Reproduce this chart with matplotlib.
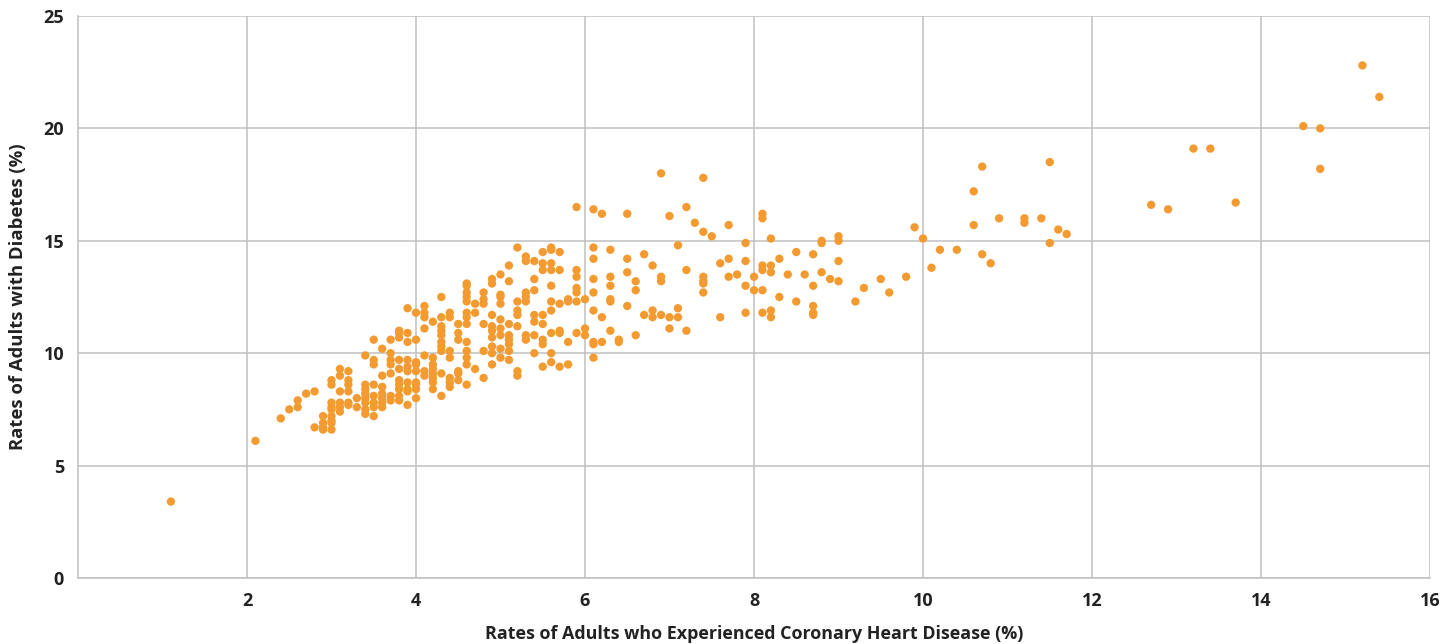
import matplotlib.pyplot as plt

# rates, grouped by x column
chd_rate = [
    1.1, 2.1, 2.4, 2.5, 2.6, 2.6, 2.7, 2.8, 2.8,
    2.9, 2.9, 2.9, 2.9,
    3.0, 3.0, 3.0, 3.0, 3.0, 3.0, 3.0, 3.0, 3.0,
    3.1, 3.1, 3.1, 3.1, 3.1, 3.1,
    3.2, 3.2, 3.2, 3.2, 3.2, 3.2,
    3.3, 3.3,
    3.4, 3.4, 3.4, 3.4, 3.4, 3.4, 3.4, 3.4,
    3.5, 3.5, 3.5, 3.5, 3.5, 3.5, 3.5, 3.5,
    3.6, 3.6, 3.6, 3.6, 3.6, 3.6, 3.6,
    3.7, 3.7, 3.7, 3.7, 3.7, 3.7, 3.7,
    3.8, 3.8, 3.8, 3.8, 3.8, 3.8, 3.8, 3.8, 3.8, 3.8,
    3.9, 3.9, 3.9, 3.9, 3.9, 3.9, 3.9, 3.9, 3.9, 3.9,
    4.0, 4.0, 4.0, 4.0, 4.0, 4.0, 4.0, 4.0, 4.0,
    4.1, 4.1, 4.1, 4.1, 4.1, 4.1, 4.1,
    4.2, 4.2, 4.2, 4.2, 4.2, 4.2, 4.2, 4.2,
    4.3, 4.3, 4.3, 4.3, 4.3, 4.3, 4.3, 4.3, 4.3, 4.3,
    4.4, 4.4, 4.4, 4.4, 4.4, 4.4, 4.4,
    4.5, 4.5, 4.5, 4.5, 4.5, 4.5,
    4.6, 4.6, 4.6, 4.6, 4.6, 4.6, 4.6, 4.6, 4.6, 4.6, 4.6, 4.6, 4.6,
    4.7, 4.7, 4.7,
    4.8, 4.8, 4.8, 4.8, 4.8, 4.8,
    4.9, 4.9, 4.9, 4.9, 4.9, 4.9, 4.9, 4.9, 4.9,
    5.0, 5.0, 5.0, 5.0, 5.0, 5.0, 5.0, 5.0, 5.0,
    5.1, 5.1, 5.1, 5.1, 5.1, 5.1, 5.1, 5.1,
    5.2, 5.2, 5.2, 5.2, 5.2, 5.2, 5.2,
    5.3, 5.3, 5.3, 5.3, 5.3, 5.3, 5.3,
    5.4, 5.4, 5.4, 5.4, 5.4, 5.4, 5.4,
    5.5, 5.5, 5.5, 5.5, 5.5, 5.5, 5.5, 5.5,
    5.6, 5.6, 5.6, 5.6, 5.6, 5.6, 5.6, 5.6, 5.6, 5.6,
    5.7, 5.7, 5.7, 5.7, 5.7, 5.7,
    5.8, 5.8, 5.8, 5.8,
    5.9, 5.9, 5.9, 5.9, 5.9, 5.9, 5.9,
    6.0, 6.0, 6.0,
    6.1, 6.1, 6.1, 6.1, 6.1, 6.1, 6.1, 6.1, 6.1,
    6.2, 6.2, 6.2,
    6.3, 6.3, 6.3, 6.3, 6.3, 6.3,
    6.4, 6.4,
    6.5, 6.5, 6.5, 6.5,
    6.6, 6.6, 6.6,
    6.7, 6.7,
    6.8, 6.8, 6.8,
    6.9, 6.9, 6.9, 6.9,
    7.0, 7.0, 7.0,
    7.1, 7.1, 7.1,
    7.2, 7.2, 7.2,
    7.3,
    7.4, 7.4, 7.4, 7.4, 7.4, 7.4,
    7.5,
    7.6, 7.6,
    7.7, 7.7, 7.7,
    7.8,
    7.9, 7.9, 7.9, 7.9,
    8.0, 8.0,
    8.1, 8.1, 8.1, 8.1, 8.1, 8.1,
    8.2, 8.2, 8.2, 8.2, 8.2,
    8.3, 8.3,
    8.4,
    8.5, 8.5,
    8.6,
    8.7, 8.7, 8.7, 8.7, 8.7,
    8.8, 8.8, 8.8,
    8.9,
    9.0, 9.0, 9.0, 9.0,
    9.2, 9.3, 9.5, 9.6, 9.8, 9.9, 10.0, 10.1, 10.2, 10.4,
    10.6, 10.6, 10.7, 10.7, 10.8, 10.9, 11.2, 11.2, 11.4,
    11.5, 11.5, 11.6, 11.7,
    12.7, 12.9, 13.2, 13.4, 13.7, 14.5, 14.7, 14.7, 15.2, 15.4,
]

diabetes_rate = [
    3.4, 6.1, 7.1, 7.5, 7.9, 7.6, 8.2, 8.3, 6.7,
    7.2, 6.9, 6.7, 6.6,
    8.8, 8.6, 7.8, 7.6, 7.5, 7.2, 7.0, 6.9, 6.6,
    9.3, 9.0, 8.3, 7.8, 7.6, 7.4,
    9.2, 8.8, 8.6, 8.3, 7.8, 7.7,
    8.0, 7.6,
    9.9, 8.6, 8.4, 8.2, 8.0, 7.8, 7.5, 7.3,
    10.6, 9.7, 9.5, 8.6, 8.1, 7.8, 7.6, 7.2,
    10.2, 9.0, 8.5, 8.2, 8.0, 7.8, 7.6,
    10.6, 10.0, 9.7, 9.5, 9.1, 8.1, 7.9,
    11.0, 10.9, 10.7, 9.7, 9.3, 8.8, 8.6, 8.4, 8.1, 7.9,
    12.0, 10.9, 10.5, 9.7, 9.4, 9.2, 8.7, 8.4, 8.3, 7.7,
    11.8, 10.6, 9.6, 9.5, 9.2, 8.7, 8.6, 8.4, 8.0,
    12.1, 11.8, 11.6, 11.1, 9.9, 9.2, 9.0,
    11.4, 9.8, 9.5, 9.3, 9.1, 8.9, 8.7, 8.4,
    12.5, 11.6, 11.2, 11.0, 10.8, 10.5, 10.3, 10.1, 9.1, 8.1,
    11.8, 11.6, 10.1, 9.8, 8.9, 8.7, 8.5,
    11.3, 10.9, 10.6, 9.2, 9.1, 8.8,
    13.1, 13.0, 12.7, 12.5, 12.3, 11.8, 11.6, 11.3, 10.5, 10.1, 9.8, 9.5, 8.6,
    12.2, 11.8, 9.3,
    12.7, 12.4, 12.2, 11.3, 10.1, 8.9,
    13.3, 13.1, 11.7, 11.2, 11.0, 10.7, 10.3, 10.0, 9.5,
    13.5, 12.6, 12.5, 12.2, 11.5, 11.1, 10.8, 10.2, 9.8,
    13.9, 13.2, 11.3, 10.8, 10.6, 10.4, 10.1, 9.7,
    14.7, 12.3, 11.9, 11.7, 11.2, 9.2, 9.0,
    14.3, 14.1, 12.7, 12.5, 12.3, 10.8, 10.6,
    14.1, 13.3, 12.8, 11.7, 11.4, 10.8, 10.0,
    14.5, 14.0, 13.7, 11.7, 11.3, 10.6, 10.4, 9.4,
    14.7, 14.6, 14.0, 13.7, 13.0, 12.3, 11.9, 10.9, 10.0, 9.6,
    14.5, 13.7, 12.2, 11.0, 10.9, 9.4,
    12.4, 12.3, 10.5, 9.5,
    16.5, 13.7, 13.4, 12.9, 12.7, 12.3, 10.9,
    12.4, 11.1, 10.8,
    16.4, 14.7, 14.2, 13.3, 12.7, 11.9, 10.5, 10.4, 9.8,
    16.2, 11.6, 10.5,
    14.6, 13.4, 13.0, 12.4, 12.3, 11.0,
    10.6, 10.5,
    16.2, 14.2, 13.6, 12.1,
    13.2, 12.8, 10.8,
    14.4, 11.7,
    13.9, 11.9, 11.6,
    18.0, 13.4, 13.2, 11.7,
    16.1, 11.6, 11.1,
    14.8, 12.0, 11.6,
    16.5, 13.7, 11.0,
    15.8,
    17.8, 15.4, 13.4, 13.2, 13.1, 12.7,
    15.2,
    14.0, 11.6,
    15.7, 14.2, 13.4,
    13.5,
    14.9, 14.1, 13.0, 11.8,
    13.4, 12.8,
    16.2, 16.0, 13.9, 13.7, 12.8, 11.8,
    15.1, 13.9, 13.6, 11.9, 11.6,
    14.2, 12.5,
    13.5,
    14.5, 12.3,
    13.5,
    14.4, 13.0, 12.1, 11.8, 11.7,
    15.0, 14.9, 13.6,
    13.3,
    15.2, 15.0, 14.1, 13.2,
    12.3, 12.9, 13.3, 12.7, 13.4, 15.6, 15.1, 13.8, 14.6, 14.6,
    17.2, 15.7, 18.3, 14.4, 14.0, 16.0, 16.0, 15.8, 16.0,
    18.5, 14.9, 15.5, 15.3,
    16.6, 16.4, 19.1, 19.1, 16.7, 20.1, 20.0, 18.2, 22.8, 21.4,
]

x_ticks = [2, 4, 6, 8, 10, 12, 14, 16]
y_ticks = [0, 5, 10, 15, 20, 25]

plt.rcParams['font.family'] = ['Open Sans', 'DejaVu Sans']

fig = plt.figure(figsize=(14.41, 6.44), dpi=100)
ax = fig.add_axes([0.0541, 0.1025, 0.9383, 0.8727])

ax.scatter(chd_rate, diabetes_rate, s=36, color='#F39A30', edgecolors='none', zorder=3)

ax.set_xlim(0, 16)
ax.set_ylim(0, 25)
ax.set_xticks(x_ticks)
ax.set_yticks(y_ticks)
ax.grid(True, color='#C0C0C0', linewidth=1.1, zorder=0)
ax.tick_params(length=0, labelsize=13, colors='#222222', pad=10)
for lbl in ax.get_xticklabels() + ax.get_yticklabels():
    lbl.set_fontweight('bold')

for side in ['top', 'right']:
    ax.spines[side].set_visible(False)
for side in ['left', 'bottom']:
    ax.spines[side].set_color('#C0C0C0')
    ax.spines[side].set_linewidth(1.1)

ax.set_xlabel('Rates of Adults who Experienced Coronary Heart Disease (%)',
              fontsize=12.9, fontweight='bold', color='#222222', labelpad=11)
ax.set_ylabel('Rates of Adults with Diabetes (%)',
              fontsize=13.3, fontweight='bold', color='#222222', labelpad=12)

fig.savefig('out.png', dpi=100)
